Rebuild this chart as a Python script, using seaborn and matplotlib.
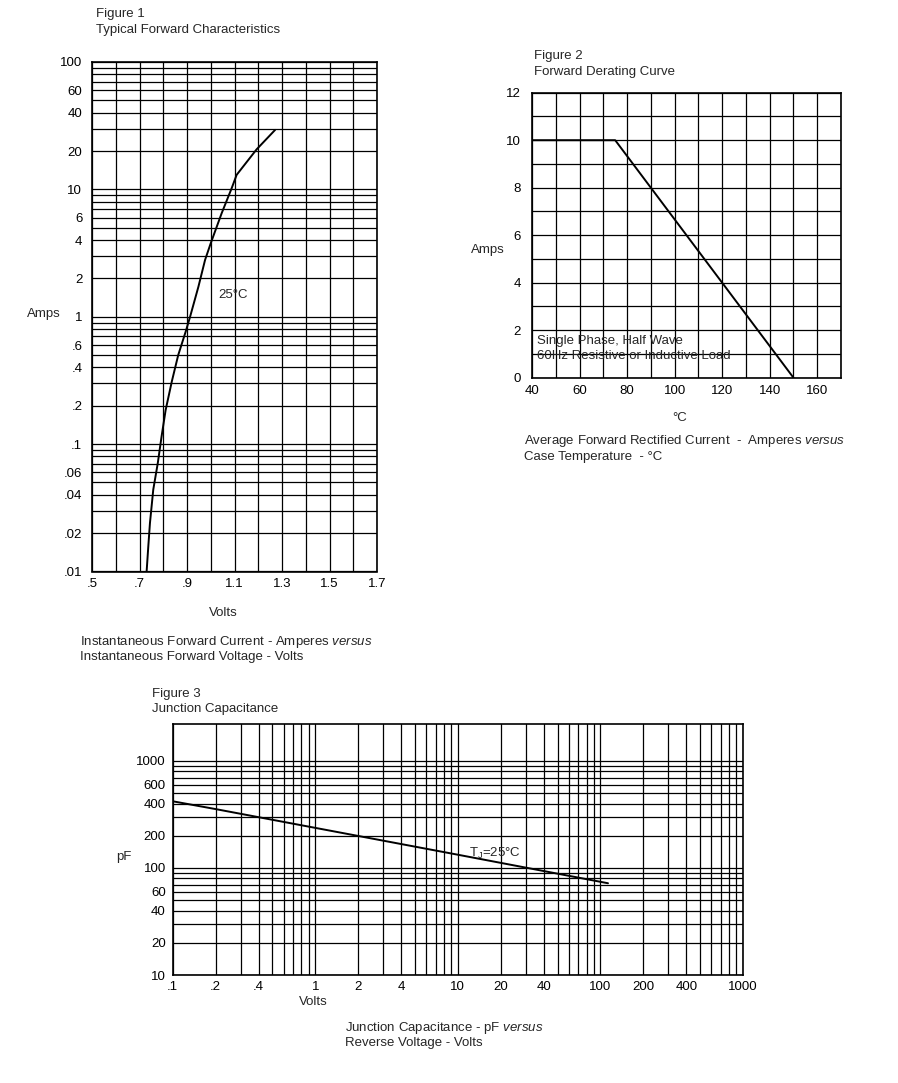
import matplotlib
matplotlib.use("Agg")
import matplotlib.pyplot as plt
import seaborn as sns
import pandas as pd

# Figure 1 - typical forward characteristics
fwd_volts = [0.730, 0.737, 0.744, 0.758, 0.777, 0.793, 0.810, 0.836, 0.863, 0.895, 0.913,
             0.948, 0.976, 1.000, 1.046, 1.088, 1.109, 1.193, 1.271]
fwd_amps = [0.01, 0.0157, 0.024, 0.044, 0.071, 0.115, 0.185, 0.31, 0.50, 0.77, 1.0,
            1.72, 2.79, 3.78, 6.5, 10.2, 13.0, 20.6, 29.3]
f1_xticks = [0.5, 0.7, 0.9, 1.1, 1.3, 1.5, 1.7]
f1_xlabels = [".5", ".7", ".9", "1.1", "1.3", "1.5", "1.7"]
f1_yticks = [0.01, 0.02, 0.04, 0.06, 0.1, 0.2, 0.4, 0.6, 1, 2, 4, 6, 10, 20, 40, 60, 100]
f1_ylabels = [".01", ".02", ".04", ".06", ".1", ".2", ".4", ".6", "1", "2", "4", "6", "10", "20", "40", "60", "100"]

# Figure 2 - forward derating curve
case_temp = [40, 75, 150]
derate_amps = [10, 10, 0]
f2_xticks = [40, 60, 80, 100, 120, 140, 160]
f2_yticks = [0, 2, 4, 6, 8, 10, 12]

# Figure 3 - junction capacitance
rev_volts = [0.1, 0.2, 1, 10, 113]
cap_pf = [420, 355, 237, 133, 72]
f3_xticks = [0.1, 0.2, 0.4, 1, 2, 4, 10, 20, 40, 100, 200, 400, 1000]
f3_xlabels = [".1", ".2", ".4", "1", "2", "4", "10", "20", "40", "100", "200", "400", "1000"]
f3_yticks = [10, 20, 40, 60, 100, 200, 400, 600, 1000]
f3_ylabels = ["10", "20", "40", "60", "100", "200", "400", "600", "1000"]

sns.set_theme(style="white")
plt.rcParams['font.family'] = ['Liberation Sans', 'DejaVu Sans']
plt.rcParams['mathtext.fontset'] = 'custom'
plt.rcParams['mathtext.rm'] = 'Liberation Sans'
plt.rcParams['mathtext.it'] = 'Liberation Sans:italic'

W, H = 898, 1083
fig = plt.figure(figsize=(W / 100, H / 100), dpi=100)
FS = 9.5


def px(x, y):
    return x / W, 1 - y / H


def box(l, t, r, b):
    return [l / W, 1 - b / H, (r - l) / W, (b - t) / H]


def style(ax):
    for s in ax.spines.values():
        s.set_color("black")
        s.set_linewidth(1.2)
    ax.grid(True, which="both", color="black", linewidth=0.9)
    ax.tick_params(which="both", length=0, labelsize=FS, colors="black")
    ax.set_xlabel("")
    ax.set_ylabel("")


def log_minor(lo_exp, hi_exp):
    vals = []
    for e in range(lo_exp, hi_exp):
        for m in range(1, 10):
            vals.append(m * 10.0 ** e)
    vals.append(10.0 ** hi_exp)
    return vals


# ---- Figure 1
ax1 = fig.add_axes(box(92, 62, 377, 571.5))
df1 = pd.DataFrame({"V": fwd_volts, "A": fwd_amps})
sns.lineplot(data=df1, x="V", y="A", ax=ax1, color="black", linewidth=1.4, estimator=None, sort=False)
ax1.set_yscale("log")
ax1.set_xlim(0.5, 1.7)
ax1.set_ylim(0.01, 100)
ax1.set_xticks(f1_xticks, f1_xlabels)
ax1.set_xticks([0.6, 0.8, 1.0, 1.2, 1.4, 1.6], minor=True)
ax1.set_yticks(f1_yticks, f1_ylabels)
ax1.set_yticks(log_minor(-2, 2), minor=True)
ax1.yaxis.set_minor_formatter(plt.NullFormatter())
style(ax1)
ax1.tick_params(axis="y", pad=7)
ax1.tick_params(axis="x", pad=5)
ax1.text(1.094, 1.47, "25°C", ha="center", va="center", fontsize=FS)

fig.text(*px(96, 14), "Figure 1", fontsize=FS, va="center")
fig.text(*px(96, 30), "Typical Forward Characteristics", fontsize=FS, va="center")
fig.text(*px(44, 314), "Amps", fontsize=FS, ha="center", va="center")
fig.text(*px(223, 613), "Volts", fontsize=FS, ha="center", va="center")
fig.text(*px(80, 642), r"Instantaneous Forward Current - Amperes $\mathit{versus}$", fontsize=FS, va="center")
fig.text(*px(80, 657), "Instantaneous Forward Voltage - Volts", fontsize=FS, va="center")

# ---- Figure 2
ax2 = fig.add_axes(box(532, 92.7, 841, 377.7))
df2 = pd.DataFrame({"T": case_temp, "A": derate_amps})
sns.lineplot(data=df2, x="T", y="A", ax=ax2, color="black", linewidth=1.4, estimator=None, sort=False)
ax2.set_xlim(40, 170)
ax2.set_ylim(0, 12)
ax2.set_xticks(f2_xticks, [str(v) for v in f2_xticks])
ax2.set_xticks([50, 70, 90, 110, 130, 150, 170], minor=True)
ax2.set_yticks(f2_yticks, [str(v) for v in f2_yticks])
ax2.set_yticks([1, 3, 5, 7, 9, 11], minor=True)
style(ax2)
ax2.tick_params(axis="y", pad=8)
ax2.tick_params(axis="x", pad=5)
ax2.text(42.1, 1.55, "Single Phase, Half Wave", fontsize=FS, va="center")
ax2.text(42.1, 0.91, "60Hz Resistive or Inductive Load", fontsize=FS, va="center")

fig.text(*px(534, 56), "Figure 2", fontsize=FS, va="center")
fig.text(*px(534, 72), "Forward Derating Curve", fontsize=FS, va="center")
fig.text(*px(488, 250), "Amps", fontsize=FS, ha="center", va="center")
fig.text(*px(680, 418), "°C", fontsize=FS, ha="center", va="center")
fig.text(*px(524, 441), r"Average Forward Rectified Current  -  Amperes $\mathit{versus}$", fontsize=FS, va="center")
fig.text(*px(524, 457), "Case Temperature  - °C", fontsize=FS, va="center")

# ---- Figure 3
ax3 = fig.add_axes(box(172.7, 724.3, 743, 975))
df3 = pd.DataFrame({"V": rev_volts, "C": cap_pf})
sns.lineplot(data=df3, x="V", y="C", ax=ax3, color="black", linewidth=1.4, estimator=None, sort=False)
ax3.set_xscale("log")
ax3.set_yscale("log")
ax3.set_xlim(0.1, 1000)
ax3.set_ylim(10, 2200)
ax3.set_xticks(f3_xticks, f3_xlabels)
ax3.set_xticks(log_minor(-1, 3), minor=True)
ax3.xaxis.set_minor_formatter(plt.NullFormatter())
ax3.set_yticks(f3_yticks, f3_ylabels)
ax3.set_yticks(log_minor(1, 3), minor=True)
ax3.yaxis.set_minor_formatter(plt.NullFormatter())
style(ax3)
ax3.tick_params(axis="y", pad=5)
ax3.tick_params(axis="x", pad=4)
ax3.text(12.0, 138, r"T$_{\mathregular{J}}$=25°C", fontsize=FS, va="center")

fig.text(*px(152, 694), "Figure 3", fontsize=FS, va="center")
fig.text(*px(152, 709), "Junction Capacitance", fontsize=FS, va="center")
fig.text(*px(124, 857), "pF", fontsize=FS, ha="center", va="center")
fig.text(*px(313, 1002), "Volts", fontsize=FS, ha="center", va="center")
fig.text(*px(345, 1028), r"Junction Capacitance - pF $\mathit{versus}$", fontsize=FS, va="center")
fig.text(*px(345, 1043), "Reverse Voltage - Volts", fontsize=FS, va="center")

fig.savefig("out.png", dpi=100)
